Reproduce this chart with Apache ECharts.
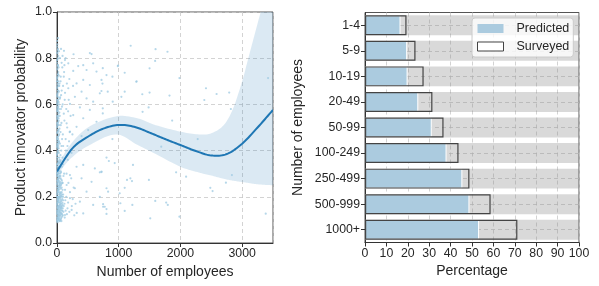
<!DOCTYPE html>
<html style="height: 100%">
<head>
    <meta charset="utf-8">
    <script src="https://cdn.jsdelivr.net/npm/echarts@6/dist/echarts.min.js"></script>
</head>
<body style="height: 100%; margin: 0; background: #fff">
    <div id="main" style="width: 599px; height: 286px"></div>
    <script type="text/javascript">
        // right panel: share of product innovators by firm size
        var sizeGroups = ['1-4', '5-9', '10-19', '20-49', '50-99', '100-249', '250-499', '500-999', '1000+'];
        var predicted = [16.6, 19.7, 19.9, 24.9, 31.2, 38.1, 45.5, 48.8, 53.3];
        var surveyed = [19.4, 23.6, 27.4, 31.5, 36.7, 43.7, 48.8, 58.7, 71.2];

        // left panel: fitted curve and its band
        var fitX = [0, 250, 500, 750, 1000, 1250, 1500, 1750, 2000, 2250, 2500, 2750, 3000, 3250, 3500];
        var fitY = [0.31, 0.41, 0.46, 0.495, 0.511, 0.503, 0.478, 0.45, 0.424, 0.398, 0.379, 0.385, 0.43, 0.50, 0.576];
        var bandX = [0, 200, 500, 950, 1300, 1600, 2000, 2300, 2500, 2700, 2850, 3000, 3100, 3220, 3350, 3500];
        var bandLow = [0.29, 0.36, 0.42, 0.47, 0.425, 0.385, 0.33, 0.305, 0.292, 0.278, 0.27, 0.264, 0.26, 0.255, 0.252, 0.25];
        var bandHigh = [0.33, 0.42, 0.50, 0.548, 0.54, 0.51, 0.482, 0.47, 0.475, 0.51, 0.58, 0.70, 0.80, 0.92, 1.05, 1.2];

        // left panel: individual firms (employees, probability)
        var firmPoints = [
            [3,0.85],[8,0.82],[2,0.79],[12,0.77],[5,0.75],[18,0.73],[4,0.71],[9,0.70],[25,0.68],[3,0.67],
            [14,0.66],[6,0.64],[20,0.63],[2,0.62],[11,0.61],[30,0.60],[7,0.59],[4,0.58],[16,0.57],[22,0.56],
            [3,0.55],[9,0.54],[27,0.53],[5,0.52],[13,0.51],[2,0.50],[19,0.49],[8,0.48],[35,0.47],[4,0.46],
            [12,0.45],[24,0.44],[6,0.43],[2,0.42],[17,0.41],[10,0.40],[29,0.39],[3,0.38],[14,0.37],[7,0.36],
            [21,0.35],[4,0.34],[40,0.33],[11,0.32],[2,0.31],[26,0.30],[8,0.29],[16,0.28],[5,0.27],[33,0.26],
            [12,0.25],[3,0.24],[20,0.23],[9,0.22],[45,0.21],[6,0.20],[14,0.19],[28,0.18],[4,0.17],[18,0.16],
            [10,0.15],[37,0.14],[7,0.13],[23,0.12],[3,0.11],[15,0.10],[50,0.095],[9,0.09],
            [42,0.12],[55,0.13],[60,0.15],[70,0.11],[80,0.14],[95,0.12],[110,0.16],[65,0.18],[85,0.19],[100,0.21],
            [120,0.17],[140,0.14],[48,0.22],[75,0.24],[90,0.26],[58,0.28],[130,0.23],[150,0.20],[170,0.15],[105,0.29],
            [62,0.31],[78,0.33],[52,0.35],[88,0.37],[115,0.30],[68,0.40],[46,0.43],[82,0.45],[57,0.48],[72,0.52],
            [44,0.55],[64,0.58],[92,0.60],[50,0.63],[76,0.66],[40,0.69],[60,0.72],[86,0.76],[48,0.80],[32,0.83],
            [38,0.25],[34,0.16],[26,0.19],[30,0.105],[19,0.12],[1,0.14],[1,0.20],[1,0.30],[1,0.45],[1,0.60],
            [1,0.70],[28,0.145],[36,0.175],[44,0.115],[53,0.165],[66,0.125],[73,0.155],[91,0.165],[104,0.135],[125,0.11],
            [135,0.185],[160,0.125],[180,0.175],[200,0.135],[210,0.22],[240,0.16],[185,0.26],[155,0.30],[230,0.28],[255,0.19],
            [280,0.12],[300,0.17],[270,0.24],[320,0.13],[175,0.36],[145,0.40],[195,0.44],[235,0.39],[165,0.50],[220,0.55],
            [190,0.62],[250,0.47],[260,0.68],[150,0.58],[130,0.65],[110,0.72],[140,0.80],[200,0.71],[120,0.53],[100,0.42],
            [96,0.34],[24,0.27],[17,0.33],[39,0.37],[31,0.44],[13,0.20],[22,0.22],[27,0.105],[11,0.13],[6,0.155],
            [15,0.175],[9,0.185],[33,0.20],[41,0.29],[54,0.205],[61,0.235],[47,0.265],[69,0.275],[79,0.20],[84,0.115],
            [99,0.185],[58,0.10],[72,0.095],[36,0.095],
            [2,0.095],[6,0.10],[10,0.105],[14,0.11],[18,0.115],[22,0.10],[26,0.12],[31,0.125],[35,0.11],[39,0.13],
            [43,0.135],[47,0.10],[51,0.14],[56,0.12],[61,0.145],[65,0.105],[70,0.13],[75,0.15],[82,0.125],[88,0.14],
            [3,0.125],[7,0.135],[12,0.14],[16,0.15],[21,0.155],[25,0.145],[29,0.16],[34,0.135],[38,0.155],[42,0.165],
            [46,0.15],[50,0.175],[55,0.155],[59,0.17],[64,0.16],[68,0.185],[74,0.17],[80,0.16],[87,0.175],[94,0.15],
            [2,0.165],[5,0.175],[9,0.18],[13,0.19],[17,0.185],[21,0.195],[26,0.2],[30,0.185],[35,0.21],[39,0.195],
            [44,0.2],[49,0.215],[54,0.19],[59,0.2],[63,0.215],[69,0.205],[76,0.22],[83,0.21],[90,0.23],[98,0.2],
            [3,0.21],[7,0.215],[11,0.225],[15,0.23],[19,0.24],[24,0.235],[28,0.245],[32,0.23],[37,0.25],[42,0.24],
            [46,0.255],[52,0.245],[57,0.26],[63,0.25],[71,0.255],[78,0.27],[86,0.26],[2,0.255],[6,0.26],[10,0.27],
            [14,0.265],[18,0.275],[23,0.28],[27,0.27],[31,0.285],[36,0.29],[43,0.28],[49,0.3],[56,0.29],[64,0.305],
            [4,0.29],[8,0.3],[12,0.305],[17,0.31],[21,0.3],[25,0.315],[30,0.32],[35,0.31],[42,0.325],[51,0.33],
            [3,0.33],[9,0.34],[14,0.345],[19,0.33],[24,0.355],[30,0.35],[37,0.345],[45,0.36],[58,0.355],[5,0.37],
            [2,0.385],[8,0.39],[13,0.40],[20,0.395],[27,0.41],[4,0.415],[10,0.425],[16,0.43],[23,0.42],[34,0.435],
            [3,0.44],[8,0.455],[14,0.46],[20,0.45],[28,0.465],[5,0.475],[11,0.48],[17,0.49],[25,0.485],[40,0.495],
            [2,0.505],[7,0.515],[13,0.52],[21,0.525],[30,0.51],[4,0.535],[10,0.545],[16,0.55],[26,0.54],[38,0.565],
            [3,0.57],[8,0.575],[14,0.585],[22,0.59],[33,0.58],[5,0.605],[11,0.615],[18,0.62],[27,0.61],[45,0.625],
            [2,0.635],[7,0.645],[12,0.65],[20,0.66],[31,0.655],[4,0.675],[9,0.685],[15,0.69],[24,0.7],[36,0.68],
            [3,0.715],[8,0.72],[13,0.73],[21,0.74],[30,0.725],[5,0.755],[10,0.765],[17,0.77],[26,0.76],[2,0.78],
            [7,0.795],[12,0.80],[20,0.81],[4,0.825],[10,0.835],[16,0.84],[6,0.86],[3,0.875],
            [55,0.38],[72,0.42],[95,0.47],[60,0.51],[110,0.56],[80,0.59],[125,0.62],[66,0.64],[98,0.68],[58,0.70],
            [115,0.74],[75,0.78],[160,0.69],[180,0.57],[205,0.48],[140,0.45],[170,0.42],[90,0.81],[65,0.84],[120,0.77],
            [1194,0.854],[1597,0.839],[1790,0.828],[1590,0.788],[742,0.757],[985,0.766],[1097,0.737],[1500,0.756],[802,0.727],[898,0.72],
            [1290,0.70],[1984,0.714],[737,0.69],[720,0.658],[822,0.655],[1097,0.655],[1382,0.644],[1500,0.651],[1823,0.638],[2414,0.67],
            [2586,0.645],[2790,0.651],[2387,0.619],[903,0.612],[1043,0.633],[742,0.583],[1387,0.568],[1484,0.587],[1866,0.53],[3420,0.714],
            [2817,0.58],[802,0.37],[840,0.355],[935,0.346],[1231,0.338],[721,0.307],[1134,0.273],[1189,0.28],[1215,0.268],[1489,0.273],
            [802,0.237],[828,0.222],[1097,0.239],[1016,0.215],[1930,0.306],[2092,0.287],[2484,0.239],[2521,0.225],[2737,0.261],[2834,0.294],
            [1592,0.182],[1769,0.175],[1795,0.165],[747,0.168],[774,0.157],[802,0.147],[802,0.126],[1027,0.172],[1221,0.165],[1097,0.139],
            [1984,0.114],[1511,0.107],[3382,0.127],[1689,0.417],[2280,0.45],[898,0.45],
            [16,0.887],[113,0.832],[532,0.822],[268,0.817],[990,0.768],[1285,0.698],[694,0.306],
            [560,0.818],[425,0.77],[344,0.766],[479,0.749],[586,0.778],[183,0.778],[129,0.792],[263,0.745],[640,0.742],[425,0.706],
            [721,0.706],[317,0.691],[532,0.684],[183,0.67],[398,0.655],[694,0.648],[290,0.633],[479,0.626],[586,0.612],[210,0.602],
            [371,0.587],[532,0.576],[742,0.561],[263,0.554],[425,0.54],[640,0.525],[156,0.518],[317,0.503],[505,0.489],[210,0.482],
            [398,0.463],[317,0.33],[425,0.338],[613,0.323],[721,0.309],[210,0.294],[398,0.28],[560,0.265],[156,0.251],[290,0.237],
            [479,0.222],[694,0.2],[210,0.194],[371,0.179],[586,0.165],[747,0.157],[237,0.143],[425,0.128],[129,0.121]
        ];

        var textColor = '#262626';
        var fontFamily = '"Liberation Sans", Arial, sans-serif';
        var gridLine = { show: true, lineStyle: { color: '#c8c8c8', type: [4, 3], width: 0.8 } };
        var axisLine = { show: true, lineStyle: { color: '#333', width: 1 } };
        var axisTick = { show: true, inside: false, length: 4, lineStyle: { color: '#333' } };
        var tickLabel = { color: textColor, fontSize: 12.3, fontFamily: fontFamily, margin: 5 };
        var nameStyle = { color: textColor, fontSize: 14, fontFamily: fontFamily };

        // Catmull-Rom through pixel points, sampled so plain polygons/polylines look smooth
        function sampleSpline(pts) {
            var out = [];
            for (var i = 0; i < pts.length - 1; i++) {
                var p0 = pts[Math.max(i - 1, 0)], p1 = pts[i], p2 = pts[i + 1], p3 = pts[Math.min(i + 2, pts.length - 1)];
                for (var k = 0; k < 10; k++) {
                    var t = k / 10, t2 = t * t, t3 = t2 * t;
                    var x = 0.5 * ((2 * p1[0]) + (-p0[0] + p2[0]) * t + (2 * p0[0] - 5 * p1[0] + 4 * p2[0] - p3[0]) * t2 + (-p0[0] + 3 * p1[0] - 3 * p2[0] + p3[0]) * t3);
                    var y = 0.5 * ((2 * p1[1]) + (-p0[1] + p2[1]) * t + (2 * p0[1] - 5 * p1[1] + 4 * p2[1] - p3[1]) * t2 + (-p0[1] + 3 * p1[1] - 3 * p2[1] + p3[1]) * t3);
                    out.push([x, y]);
                }
            }
            out.push(pts[pts.length - 1]);
            return out;
        }

        var myChart = echarts.init(document.getElementById('main'), null, { renderer: 'canvas' });

        var bandPoints = bandX.map(function (x, i) { return [x, bandLow[i], bandHigh[i]]; });
        var fitPoints = fitX.map(function (x, i) { return [x, fitY[i]]; });

        var option = {
            animation: false,
            textStyle: { fontFamily: fontFamily },
            grid: [
                { left: 57, right: 326, top: 12, bottom: 43, show: true, borderColor: '#555', borderWidth: 1 },
                { left: 365, right: 20, top: 12.5, bottom: 43.5, show: true, borderColor: '#555', borderWidth: 1 }
            ],
            legend: {
                data: [
                    { name: 'Predicted', itemStyle: { color: '#abcbdf', borderWidth: 0 } },
                    { name: 'Surveyed', itemStyle: { color: '#fff', borderColor: '#444', borderWidth: 1 } }
                ],
                orient: 'vertical',
                left: 472,
                top: 18,
                icon: 'rect',
                itemWidth: 26,
                itemHeight: 9,
                itemGap: 3,
                padding: [3, 4, 3, 5],
                backgroundColor: 'rgba(255,255,255,0.8)',
                borderColor: '#cccccc',
                borderWidth: 1,
                borderRadius: 3,
                textStyle: { color: textColor, fontSize: 12.5, lineHeight: 15, padding: [0, 0, 0, 8] },
                z: 10
            },
            xAxis: [
                {
                    gridIndex: 0, type: 'value', min: 0, max: 3500, interval: 1000,
                    name: 'Number of employees', nameLocation: 'middle', nameGap: 21, nameTextStyle: nameStyle,
                    axisLine: axisLine, axisTick: axisTick,
                    axisLabel: Object.assign({ showMaxLabel: false, formatter: function (v) { return String(v); } }, tickLabel),
                    splitLine: gridLine
                },
                {
                    gridIndex: 1, type: 'value', min: 0, max: 100, interval: 10,
                    name: 'Percentage', nameLocation: 'middle', nameGap: 21, nameTextStyle: nameStyle,
                    axisLine: axisLine, axisTick: axisTick, axisLabel: tickLabel,
                    splitLine: gridLine
                }
            ],
            yAxis: [
                {
                    gridIndex: 0, type: 'value', min: 0, max: 1, interval: 0.2,
                    name: 'Product innovator probability', nameLocation: 'middle', nameGap: 29, nameTextStyle: nameStyle,
                    axisLine: axisLine, axisTick: axisTick,
                    axisLabel: Object.assign({ formatter: function (v) { return v.toFixed(1); } }, tickLabel),
                    splitLine: gridLine
                },
                {
                    gridIndex: 1, type: 'category', data: sizeGroups, inverse: true,
                    name: 'Number of employees', nameLocation: 'middle', nameGap: 60, nameTextStyle: nameStyle,
                    axisLine: axisLine,
                    axisTick: Object.assign({ alignWithLabel: true }, axisTick),
                    axisLabel: tickLabel,
                    splitLine: Object.assign({ alignWithLabel: true }, gridLine)
                }
            ],
            series: [
                {
                    name: 'band',
                    type: 'custom',
                    xAxisIndex: 0, yAxisIndex: 0,
                    clip: true,
                    z: 1,
                    silent: true,
                    data: bandPoints,
                    renderItem: function (params, api) {
                        if (params.dataIndex !== 0) return null;
                        var upper = [], lower = [];
                        for (var i = 0; i < bandX.length; i++) {
                            upper.push(api.coord([bandX[i], bandHigh[i]]));
                            lower.push(api.coord([bandX[i], bandLow[i]]));
                        }
                        var pts = sampleSpline(upper).concat(sampleSpline(lower).reverse());
                        return {
                            type: 'polygon',
                            shape: { points: pts },
                            style: { fill: 'rgba(31,119,180,0.16)', stroke: null }
                        };
                    }
                },
                {
                    name: 'firms',
                    type: 'scatter',
                    xAxisIndex: 0, yAxisIndex: 0,
                    symbolSize: 2.2,
                    z: 2,
                    data: firmPoints,
                    itemStyle: { color: '#9ecae1', opacity: 0.75 }
                },
                {
                    name: 'fit',
                    type: 'custom',
                    xAxisIndex: 0, yAxisIndex: 0,
                    clip: true,
                    z: 3,
                    silent: true,
                    data: fitPoints,
                    renderItem: function (params, api) {
                        if (params.dataIndex !== 0) return null;
                        var pts = fitPoints.map(function (p) { return api.coord(p); });
                        return {
                            type: 'polyline',
                            shape: { points: sampleSpline(pts) },
                            style: { stroke: '#1f77b4', lineWidth: 2, fill: null }
                        };
                    }
                },
                {
                    name: 'bg',
                    type: 'bar',
                    xAxisIndex: 1, yAxisIndex: 1,
                    barCategoryGap: '22%',
                    barGap: '-100%',
                    silent: true,
                    data: sizeGroups.map(function () { return 100; }),
                    itemStyle: { color: 'rgba(128,128,128,0.3)' }
                },
                {
                    name: 'Predicted',
                    type: 'bar',
                    xAxisIndex: 1, yAxisIndex: 1,
                    barCategoryGap: '22%',
                    barGap: '-100%',
                    data: predicted,
                    itemStyle: { color: '#abcbdf', borderColor: '#ffffff', borderWidth: 1 }
                },
                {
                    name: 'Surveyed',
                    type: 'bar',
                    xAxisIndex: 1, yAxisIndex: 1,
                    barCategoryGap: '22%',
                    barGap: '-100%',
                    data: surveyed,
                    itemStyle: { color: 'rgba(0,0,0,0)', borderColor: '#444', borderWidth: 1.2 }
                }
            ]
        };

        myChart.setOption(option);
    </script>
</body>
</html>
